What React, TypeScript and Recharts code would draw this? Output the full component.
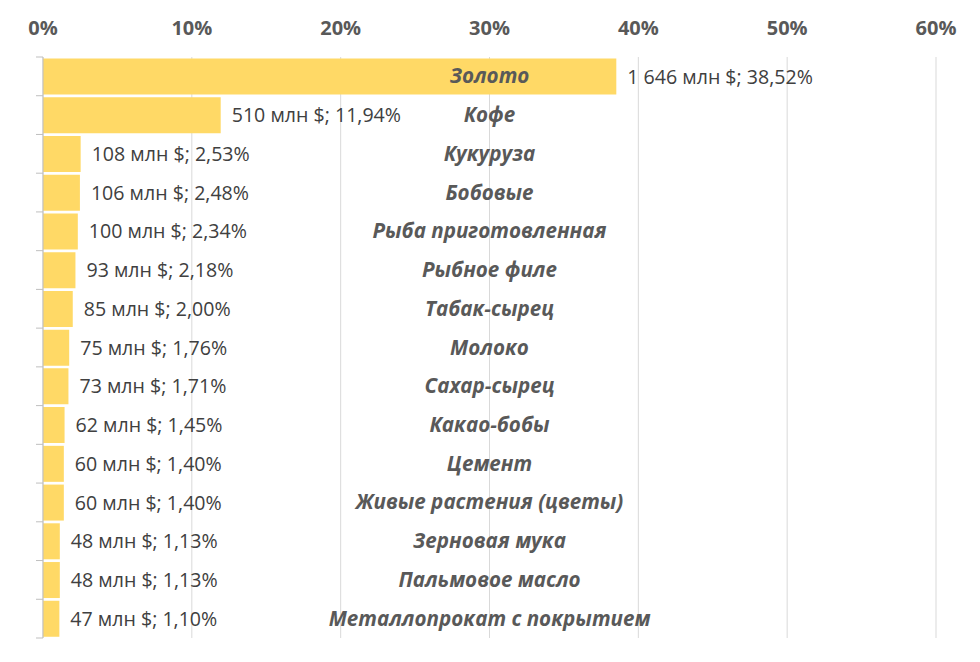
import { BarChart, Bar, XAxis, YAxis, CartesianGrid, LabelList } from 'recharts'

const categories = [
  'Золото',
  'Кофе',
  'Кукуруза',
  'Бобовые',
  'Рыба приготовленная',
  'Рыбное филе',
  'Табак-сырец',
  'Молоко',
  'Сахар-сырец',
  'Какао-бобы',
  'Цемент',
  'Живые растения (цветы)',
  'Зерновая мука',
  'Пальмовое масло',
  'Металлопрокат с покрытием'
]
const valuesMln = [1646, 510, 108, 106, 100, 93, 85, 75, 73, 62, 60, 60, 48, 48, 47]
const shares = [38.52, 11.94, 2.53, 2.48, 2.34, 2.18, 2.0, 1.76, 1.71, 1.45, 1.4, 1.4, 1.13, 1.13, 1.1]
const xTicks = [0, 10, 20, 30, 40, 50, 60]

const W = 980
const H = 662
const MARGIN = { top: 0, right: 44, bottom: 24, left: 0 }
const X_AXIS_H = 57
const Y_AXIS_W = 43
const PLOT_W = W - MARGIN.left - MARGIN.right - Y_AXIS_W
const PLOT_H = H - MARGIN.top - MARGIN.bottom - X_AXIS_H
const BAND = PLOT_H / categories.length

const COLORS = {
  bar: '#FFD966',
  grid: '#D9D9D9',
  axis: '#BFBFBF',
  tick: '#595959',
  cat: '#595959',
  value: '#404040'
}
const FONT = '"Open Sans", "Noto Sans", sans-serif'

const data = categories.map((name, i) => ({ name, mln: valuesMln[i], share: shares[i] }))

const fmtMln = (v: number) => String(v).replace(/\B(?=(\d{3})+(?!\d))/g, ' ')
const fmtPct = (v: number) => v.toFixed(2).replace('.', ',') + '%'

const TopTick = ({ x, y, payload }: any) => (
  <text x={x} y={y - 22} textAnchor="middle" fill={COLORS.tick} fontSize={20} fontWeight={700} fontFamily={FONT}>
    {payload.value}%
  </text>
)

const CategoryTick = ({ x, y, payload, index }: any) => (
  <g>
    <line x1={x - 7} x2={x} y1={y - BAND / 2} y2={y - BAND / 2} stroke={COLORS.axis} />
    {index === categories.length - 1 && (
      <line x1={x - 7} x2={x} y1={y + BAND / 2} y2={y + BAND / 2} stroke={COLORS.axis} />
    )}
    <text
      x={x + PLOT_W / 2}
      y={y}
      dy={7}
      textAnchor="middle"
      fill={COLORS.cat}
      fontSize={20.6}
      fontWeight={700}
      fontStyle="italic"
      fontFamily={FONT}
    >
      {payload.value}
    </text>
  </g>
)

const ValueLabel = ({ x, y, width, height, index }: any) => (
  <text
    x={x + width + 11}
    y={y + height / 2}
    dy={7}
    fill={COLORS.value}
    fontSize={19.6}
    fontFamily={FONT}
  >
    {fmtMln(valuesMln[index])} млн $; {fmtPct(shares[index])}
  </text>
)

export default function App() {
  return (
    <div style={{ position: 'absolute', left: 0, top: 0, width: W, height: H, background: '#fff' }}>
      <BarChart width={W} height={H} data={data} layout="vertical" margin={MARGIN} barCategoryGap={1.5}>
        <CartesianGrid horizontal={false} stroke={COLORS.grid} />
        <XAxis
          type="number"
          orientation="top"
          domain={[0, 60]}
          ticks={xTicks}
          height={X_AXIS_H}
          axisLine={false}
          tickLine={false}
          tickSize={0}
          tickMargin={0}
          tick={<TopTick />}
          interval={0}
        />
        <YAxis
          type="category"
          dataKey="name"
          width={Y_AXIS_W}
          axisLine={{ stroke: COLORS.axis }}
          tickLine={false}
          tickSize={0}
          tickMargin={0}
          tick={<CategoryTick />}
          interval={0}
        />
        <Bar dataKey="share" fill={COLORS.bar} isAnimationActive={false}>
          <LabelList dataKey="share" content={<ValueLabel />} />
        </Bar>
      </BarChart>
    </div>
  )
}
